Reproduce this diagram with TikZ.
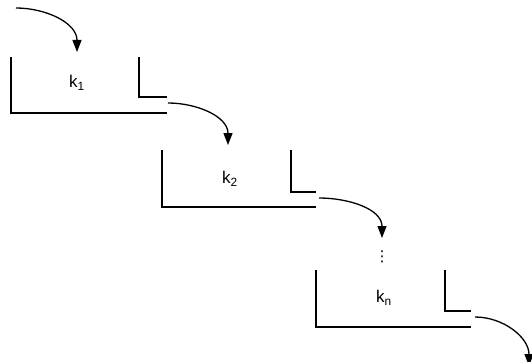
\documentclass[tikz,border=0pt]{standalone}
\usepackage{fontspec}
\setmainfont{Liberation Sans}
\newfontfamily\symfont{DejaVu Sans}
\usetikzlibrary{arrows.meta,calc}

\begin{document}
\begin{tikzpicture}[x=1pt,y=-1pt,line width=1.5pt,
  flow/.style={-{Triangle[length=12pt,width=9pt]},line width=1.3pt},
  lbl/.style={font=\fontsize{17}{19}\selectfont}]
  \useasboundingbox (0,0) rectangle (532,361);
  \coordinate (S1) at (11,57);
  \coordinate (S2) at (162,150);
  \coordinate (S3) at (316,270);

  % the three stages
  \draw (S1) -- ++(0,56) -- ++(156,0);
  \draw ($(S1)+(128,0)$) -- ++(0,40) -- ++(28,0);
  \draw (S2) -- ++(0,57) -- ++(154,0);
  \draw ($(S2)+(129,0)$) -- ++(0,42) -- ++(25,0);
  \draw (S3) -- ++(0,57) -- ++(155,0);
  \draw ($(S3)+(129,0)$) -- ++(0,41) -- ++(26,0);

  \node[lbl] (k1) at ($(S1)+(66,26)$) {k\textsubscript{1}};
  \node[lbl] (k2) at ($(S2)+(68,29)$) {k\textsubscript{2}};
  \node[lbl] (kn) at ($(S3)+(68,28)$) {k\textsubscript{n}};
  \node[font=\symfont\fontsize{15}{17}\selectfont] (dots) at (382,257) {⋮};

  \coordinate (in0) at (16,8);
  \coordinate (out1) at (168,103);
  \coordinate (out2) at (319,198);
  \coordinate (out3) at (475,317);
  \coordinate (tip1) at (77,52);
  \coordinate (tip2) at (228,145);
  \coordinate (tip3) at (382,238);
  \coordinate (tip4) at (529,366);

  \draw[flow] (in0) to[out=0,in=90] (tip1);
  \draw[flow] (out1) to[out=0,in=90] (tip2);
  \draw[flow] (out2) to[out=0,in=90] (tip3);
  \draw[flow] (out3) to[out=0,in=90] (tip4);
\end{tikzpicture}
\end{document}
